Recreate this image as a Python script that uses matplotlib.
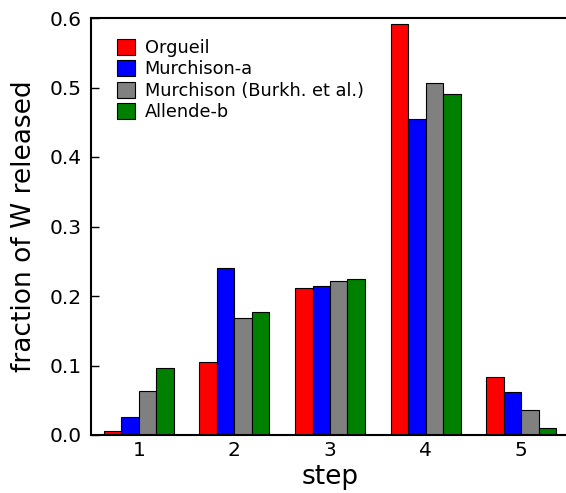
import matplotlib
matplotlib.use("Agg")
import matplotlib.pyplot as plt
import numpy as np

steps = [1, 2, 3, 4, 5]
series_names = ["Orgueil", "Murchison-a", "Murchison (Burkh. et al.)", "Allende-b"]
orgueil = [0.006, 0.105, 0.211, 0.591, 0.084]
murchison_a = [0.026, 0.240, 0.214, 0.455, 0.062]
murchison_burkh = [0.063, 0.169, 0.222, 0.507, 0.036]
allende_b = [0.096, 0.177, 0.224, 0.491, 0.010]
colors = ["#ff0000", "#0000ff", "#808080", "#008000"]
yticks = [0.0, 0.1, 0.2, 0.3, 0.4, 0.5, 0.6]

W, H = 566, 493
fig = plt.figure(figsize=(W / 100, H / 100), dpi=100)
ax = fig.add_axes([91 / W, 1 - 435 / H, 478 / W, 417 / H])

series = [orgueil, murchison_a, murchison_burkh, allende_b]
bw = 0.183
x = np.array(steps, dtype=float)
for i, (vals, name, c) in enumerate(zip(series, series_names, colors)):
    ax.bar(x + (i - 1.5) * bw, vals, width=bw, color=c, edgecolor="black",
           linewidth=0.8, label=name, zorder=2)

ax.set_xlim(0.5, 5.5)
ax.set_ylim(0, 0.6)
ax.set_xticks(steps)
ax.set_yticks(yticks)
ax.set_yticklabels([f"{v:.1f}" for v in yticks])
ax.tick_params(axis="both", direction="in", labelsize=14.5, length=6, width=1,
               top=False, right=False)
ax.tick_params(axis="y", pad=7)
ax.tick_params(axis="x", pad=4, length=0)
for s in ax.spines.values():
    s.set_linewidth(1.5)

ax.set_xlabel("step", fontsize=19, labelpad=3.5)
ax.set_ylabel("fraction of W released", fontsize=19, labelpad=9)

leg = ax.legend(loc="upper left", frameon=False, fontsize=12.8,
                handlelength=1.0, handleheight=1.0, labelspacing=0.18,
                handletextpad=0.55, borderaxespad=0.0,
                bbox_to_anchor=(19 / 478, 1 - 14 / 417))

fig.savefig("out.png", dpi=100)
